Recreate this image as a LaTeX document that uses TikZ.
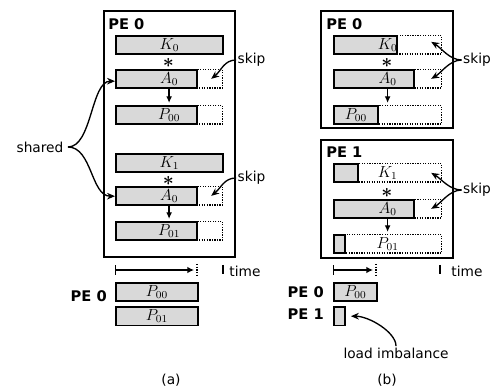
\documentclass[tikz,border=0pt]{standalone}
\usepackage{fontspec}
\setmainfont{DejaVu Sans}
\usetikzlibrary{arrows.meta, positioning}
\newlength\pxu
\setlength\pxu{0.75pt}

\begin{document}
\begin{tikzpicture}[x=\pxu, y=-\pxu,
  peframe/.style={draw, line width=1.3pt, anchor=north west, inner sep=0pt},
  slot/.style={draw, densely dotted, line width=0.9pt, anchor=north west, inner sep=0pt, minimum width=#1, minimum height=18.5\pxu, font=\fontsize{11.5}{13}\selectfont},
  job/.style={draw, fill=black!15, line width=1.4pt, anchor=north west, inner sep=0pt, minimum width=#1, minimum height=18.5\pxu, font=\fontsize{11.5}{13}\selectfont},
  mark star/.style={inner sep=0pt, text height=6pt, text depth=0pt, font=\fontsize{15}{16}\selectfont\boldmath},
  pe/.style={font=\fontsize{11}{13}\selectfont\bfseries, inner sep=0pt},
  note/.style={font=\fontsize{10.3}{12}\selectfont, inner sep=1pt},
  flow/.style={-{Latex[length=5pt,width=4.5pt]}, line width=1.2pt, shorten >=1.5pt},
  curvy/.style={-{Stealth[length=6pt,width=5pt]}, line width=1pt},
  tickmark/.style={line width=1pt}]
  \useasboundingbox (0,0) rectangle (492,391);

  % (a) one PE runs both products
  \node[peframe, minimum width=131\pxu, minimum height=246\pxu] (fa) at (103,10) {};
  \node[pe, anchor=north west] (fa-pe) at (108,18) {PE 0};
  \node[job=107\pxu] (ka0) at (115,35) {$K_0$};
  \node[mark star] (sa0) at (168.5,64) {$\ast$};
  \node[job=81\pxu] (aa0) at (115,69) {};
  \node[slot=107\pxu] (aa0s) at (115,69) {$A_0$};
  \node[job=81\pxu] (pa00) at (115,105) {};
  \node[slot=107\pxu] (pa00s) at (115,105) {$P_{00}$};
  \node[job=107\pxu] (ka1) at (115,153) {$K_1$};
  \node[mark star] (sa1) at (168.5,182) {$\ast$};
  \node[job=81\pxu] (aa1) at (115,186) {};
  \node[slot=107\pxu] (aa1s) at (115,186) {$A_0$};
  \node[job=81\pxu] (pa01) at (115,221) {};
  \node[slot=107\pxu] (pa01s) at (115,221) {$P_{01}$};
  \draw[flow] (aa0s.south) -- (pa00s.north);
  \draw[flow] (aa1s.south) -- (pa01s.north);

  \node[note] (sh) at (40,147) {shared};
  \draw[curvy] ([xshift=3\pxu]sh.east) .. controls +(24,0) and +(-24,0) .. ([yshift=-2\pxu]aa0.west);
  \draw[curvy] ([xshift=3\pxu]sh.east) .. controls +(24,0) and +(-24,0) .. (aa1.west);

  \node[note] (ska0) at (251.5,60) {skip};
  \draw[curvy] (ska0.west) .. controls +(-12,0) and +(10,-8) .. ([xshift=-12\pxu]aa0s.east);
  \node[note] (ska1) at (251.5,178) {skip};
  \draw[curvy] (ska1.west) .. controls +(-12,0) and +(10,-8) .. ([xshift=-12\pxu]aa1s.east);

  % (a) time line
  \coordinate (ta0) at (115,270);
  \coordinate (ta1) at (194,270);
  \draw[{Bar[width=7pt]}-{Latex[length=5pt,width=5pt]}, line width=1pt] (ta0) -- (ta1);
  \draw[densely dotted, line width=1pt] (197,264) -- (197,277);
  \draw[tickmark] (223,265) -- (223,274);
  \node[note] (tta) at (245,271) {time};
  \node[job=82\pxu] (qa00) at (115,282) {$P_{00}$};
  \node[job=82\pxu] (qa01) at (115,306) {$P_{01}$};
  \node[pe, anchor=east] (qa-pe) at (107,296) {PE 0};
  \node[note] (cap-a) at (171,380) {(a)};

  % (b) two PEs with skipped work
  \node[peframe, minimum width=132\pxu, minimum height=117\pxu] (fb0) at (320,10) {};
  \node[pe, anchor=north west] (fb0-pe) at (326,18) {PE 0};
  \node[job=63\pxu] (kb0) at (333,35) {};
  \node[slot=108\pxu] (kb0s) at (333,35) {$K_0$};
  \node[mark star] (sb0) at (387,64) {$\ast$};
  \node[job=80\pxu] (ab0) at (333,69) {};
  \node[slot=108\pxu] (ab0s) at (333,69) {$A_0$};
  \node[slot=108\pxu] (pb00s) at (333,105) {};
  \node[job=44\pxu] (pb00) at (333,105) {$P_{00}$};
  \draw[flow] (ab0s.south) -- (pb00s.north);

  \node[peframe, minimum width=132\pxu, minimum height=118\pxu] (fb1) at (320,139) {};
  \node[pe, anchor=north west] (fb1-pe) at (326,147) {PE 1};
  \node[job=24\pxu] (kb1) at (333,163) {};
  \node[slot=108\pxu] (kb1s) at (333,163) {$K_1$};
  \node[mark star] (sb1) at (387,194) {$\ast$};
  \node[job=80\pxu] (ab1) at (333,199) {};
  \node[slot=108\pxu] (ab1s) at (333,199) {$A_0$};
  \node[job=11\pxu] (pb01) at (333,234) {};
  \node[slot=108\pxu] (pb01s) at (333,234) {$P_{01}$};
  \draw[flow] (ab1s.south) -- (pb01s.north);

  \node[note] (skb0) at (477,60) {skip};
  \draw[curvy] (skb0.west) .. controls +(-12,0) and +(10,6) .. ([xshift=-11\pxu,yshift=3\pxu]kb0s.east);
  \draw[curvy] (skb0.west) .. controls +(-12,0) and +(10,-6) .. ([xshift=-11\pxu]ab0s.east);
  \node[note] (skb1) at (477,190) {skip};
  \draw[curvy] (skb1.west) .. controls +(-12,0) and +(10,6) .. ([xshift=-11\pxu]kb1s.east);
  \draw[curvy] (skb1.west) .. controls +(-12,0) and +(10,-6) .. ([xshift=-11\pxu]ab1s.east);

  % (b) time line
  \coordinate (tb0) at (333,270);
  \coordinate (tb1) at (373,270);
  \draw[{Bar[width=7pt]}-{Latex[length=5pt,width=5pt]}, line width=1pt] (tb0) -- (tb1);
  \draw[densely dotted, line width=1pt] (376,264) -- (376,277);
  \draw[tickmark] (440,265) -- (440,274);
  \node[note] (ttb) at (467,271) {time};
  \node[job=43\pxu] (qb00) at (333,282) {$P_{00}$};
  \node[job=11\pxu] (qb1) at (333,306) {};
  \node[pe, anchor=east] (qb0-pe) at (324,292) {PE 0};
  \node[pe, anchor=east] (qb1-pe) at (324,314) {PE 1};
  \node[note] (li) at (396,353) {load imbalance};
  \draw[curvy] (li.north) .. controls +(0,-14) and +(18,0) .. ([xshift=5\pxu]qb1.east);
  \node[note] (cap-b) at (387,380) {(b)};
\end{tikzpicture}
\end{document}
